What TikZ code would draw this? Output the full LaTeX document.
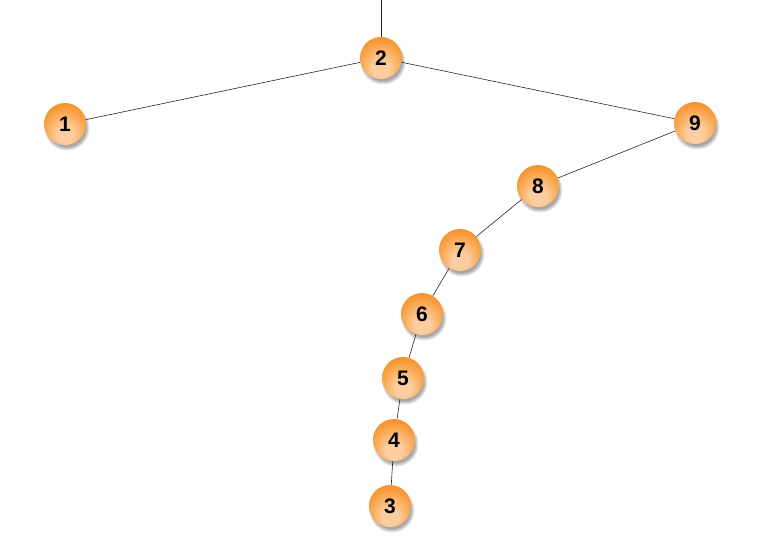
\documentclass[tikz,border=0pt]{standalone}
\usepackage{fontspec}
\setmainfont{Liberation Sans}
\usepackage{xcolor}
\usetikzlibrary{shadows.blur}

\definecolor{ballrim}{RGB}{245,138,30}
\definecolor{ballmid}{RGB}{249,165,75}
\definecolor{ballcore}{RGB}{252,205,160}
\pgfdeclareradialshading{glassball}{\pgfpoint{0bp}{-16bp}}{%
  color(0bp)=(ballcore); color(10bp)=(ballcore); color(24bp)=(ballmid);
  color(34bp)=(ballrim); color(50bp)=(ballrim)}

\begin{document}
\begin{tikzpicture}[x=1pt,y=-1pt,
    ball/.style={circle,minimum size=42pt,inner sep=0pt,
      shading=glassball,
      blur shadow={shadow xshift=2pt,shadow yshift=-4pt,
        shadow blur steps=6,shadow opacity=35},
      font=\fontsize{21}{24}\selectfont\bfseries},
    edge/.style={black!85,line width=0.6pt}]
  \useasboundingbox (0,0) rectangle (766,552);
  \coordinate (top) at (381,0);
  \node[ball] (n2) at (381,58) {2};
  \node[ball] (n1) at (65,124) {1};
  \node[ball] (n9) at (695,123) {9};
  \node[ball] (n8) at (538,186) {8};
  \node[ball] (n7) at (460,250) {7};
  \node[ball] (n6) at (422,314) {6};
  \node[ball] (n5) at (403,378) {5};
  \node[ball] (n4) at (394,440) {4};
  \node[ball] (n3) at (390,506) {3};
  \draw[edge] (top) -- (n2);
  \draw[edge] (n2) -- (n1);
  \draw[edge] (n2) -- (n9);
  \draw[edge] (n9) -- (n8);
  \draw[edge] (n8) -- (n7);
  \draw[edge] (n7) -- (n6);
  \draw[edge] (n6) -- (n5);
  \draw[edge] (n5) -- (n4);
  \draw[edge] (n4) -- (n3);
\end{tikzpicture}
\end{document}
